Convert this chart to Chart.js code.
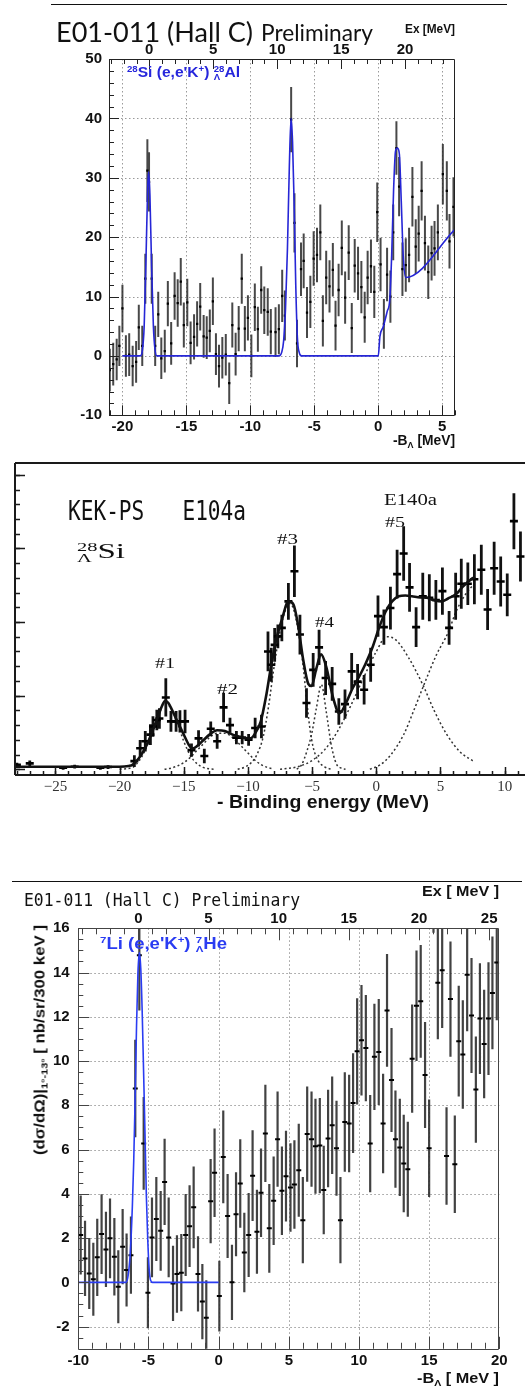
<!DOCTYPE html>
<html><head><meta charset="utf-8">
<script src="https://cdn.jsdelivr.net/npm/chart.js@4.4.1/dist/chart.umd.min.js"></script>
<style>
html,body{margin:0;padding:0;background:#fff;}
body{width:532px;height:1393px;position:relative;overflow:hidden;}
canvas{position:absolute;left:0;}
.t{position:absolute;white-space:nowrap;line-height:1;transform-origin:0 50%;color:#111;}
.sans{font-family:'Liberation Sans',Arial,sans-serif;font-weight:bold;}
.serif{font-family:'Liberation Serif','Times New Roman',serif;}
.mono{font-family:'DejaVu Sans Mono',monospace;}
.blue{color:#2626dc;}
.rule{position:absolute;height:1px;background:#111;}
.sp{font-size:.62em;vertical-align:.6em;line-height:0;}
.sb{font-size:.65em;vertical-align:-.3em;line-height:0;}
.ss{display:inline-block;vertical-align:-.34em;line-height:.92;font-size:.62em;text-align:left;}
.ss span{display:block;}
</style></head><body>
<canvas id="c1" width="532" height="450" style="top:0"></canvas>
<canvas id="c2" width="532" height="350" style="top:455px"></canvas>
<canvas id="c3" width="532" height="518" style="top:875px"></canvas>

<div class="rule" style="top:4px;left:51px;width:456px"></div>
<div class="t" data-w="197" style="left:56px;top:17.8px;font-family:Lato,'Open Sans',sans-serif;font-size:27px">E01-011 (Hall C)</div>
<div class="t" data-w="112" style="left:261px;top:21.3px;font-family:Lato,'Open Sans',sans-serif;font-size:23px">Preliminary</div>
<div class="t sans" data-w="50" style="left:405px;top:23.1px;font-size:12px">Ex [MeV]</div>
<div class="t sans" data-w="62" style="left:393px;top:433.1px;font-size:14px">-B<span class="sb">Λ</span> [MeV]</div>
<div class="t sans blue" data-w="113" style="left:127px;top:65.1px;font-size:14px"><span class="sp">28</span>Si (e,e'K<span class="sp">+</span>) <span class="ss"><span>28</span><span>Λ</span></span>Al</div>

<div class="t mono" data-w="178" style="left:68px;top:497px;font-size:27px">KEK-PS&nbsp;&nbsp;&nbsp;E104a</div>
<div class="t serif" data-w="53" style="left:384px;top:492px;font-size:16px">E140a</div>
<div class="t serif" data-w="20" style="left:385px;top:514.5px;font-size:15px">#5</div>
<div class="t serif" data-w="21" style="left:277px;top:531.5px;font-size:15px">#3</div>
<div class="t serif" data-w="19" style="left:315px;top:614.5px;font-size:15px">#4</div>
<div class="t serif" data-w="20" style="left:155px;top:655.5px;font-size:15px">#1</div>
<div class="t serif" data-w="21" style="left:217px;top:681.5px;font-size:15px">#2</div>
<div class="t serif" data-w="48" style="left:77px;top:541px;font-size:20px"><span class="ss"><span>28</span><span>Λ</span></span>Si</div>
<div class="t sans" data-w="212" style="left:217px;top:792.9px;font-size:18px">- Binding energy (MeV)</div>

<div class="rule" style="top:881px;left:12px;width:510px"></div>
<div class="t mono" data-w="276" style="left:24px;top:891.8px;font-size:17px">E01-011 (Hall C) Preliminary</div>
<div class="t sans" data-w="77" style="left:422px;top:882.6px;font-size:15px">Ex [ MeV ]</div>
<div class="t sans" data-w="82" style="left:417px;top:1369.6px;font-size:15px">-B<span class="sb">Λ</span> [ MeV ]</div>
<div class="t sans blue" data-w="127" style="left:100px;top:935.2px;font-size:16px;color:#2a3cf2"><span class="sp">7</span>Li (e,e'K<span class="sp">+</span>) <span class="ss"><span>7</span><span>Λ</span></span>He</div>
<div id="ylab3" class="sans" style="position:absolute;left:39px;top:925px;white-space:nowrap;line-height:1;font-size:15px;transform-origin:0 0;color:#111">(dσ/dΩ)|<span class="sb">1°-13°</span> [ nb/sr/300 keV ]</div>

<script>
// ---------- Panel 1 : 28Si(e,e'K+) E01-011 ----------
const P1_XTICKS = [-20, -15, -10, -5, 0, 5];
const P1_EXTICKS = [0, 5, 10, 15, 20];
const P1_YTICKS = [-10, 0, 10, 20, 30, 40, 50];
const P1_EX_SHIFT = 17.9;
const p1X = [-20.99,-20.72,-20.45,-20.24,-20.00,-19.73,-19.47,-19.20,-18.93,-18.72,-18.45,-18.21,-18.05,-17.92,-17.71,-17.44,-17.20,-16.96,-16.69,-16.45,-16.19,-15.92,-15.68,-15.44,-15.20,-14.93,-14.67,-14.40,-14.16,-13.92,-13.65,-13.41,-13.17,-12.93,-12.69,-12.45,-12.19,-11.92,-11.65,-11.41,-11.15,-10.91,-10.67,-10.43,-10.19,-9.92,-9.65,-9.41,-9.15,-8.91,-8.64,-8.40,-8.03,-7.77,-7.51,-7.30,-6.81,-6.55,-6.35,-6.04,-5.83,-5.57,-5.31,-5.05,-4.79,-4.53,-4.33,-4.07,-3.81,-3.55,-3.34,-3.10,-2.85,-2.59,-2.31,-2.07,-1.84,-1.58,-1.32,-1.06,-0.83,-0.57,-0.31,-0.08,0.18,0.44,0.69,0.95,1.17,1.42,1.63,1.89,2.15,2.41,2.67,2.93,3.16,3.39,3.65,3.91,4.17,4.40,4.66,5.05,5.36,5.57,5.88];
const p1Y = [-2.4,-1.4,-0.6,1.7,8.0,0.0,0.2,-1.7,-1.0,4.8,1.7,13.0,31.2,29.3,13.0,1.7,7.0,-0.4,0.8,8.8,2.1,10.1,8.9,12.5,5.2,9.0,2.2,3.2,5.4,8.3,3.3,3.1,4.2,9.2,0.3,-1.7,-0.3,0.2,-4.6,5.2,0.3,4.6,13.0,4.6,6.4,0.0,8.2,4.5,11.1,7.7,7.4,4.1,4.0,4.5,10.1,6.8,39.8,22.4,2.1,14.6,16.0,7.3,9.1,16.4,17.0,20.8,5.9,13.2,11.7,14.5,5.1,11.1,18.2,9.8,17.4,4.7,15.2,13.9,11.6,6.5,13.2,15.1,10.8,24.2,15.4,5.4,13.7,10.0,20.8,35.0,28.5,14.6,15.3,17.0,26.8,18.4,20.6,27.8,19.0,14.1,17.3,18.1,20.8,30.6,27.8,19.3,25.1];
const p1E = [3.6,3.6,3.5,3.4,4.0,3.5,3.6,3.4,3.5,3.8,3.4,4.2,5.3,5.0,4.2,3.4,3.8,3.5,3.6,3.8,3.6,4.0,4.0,4.0,3.8,4.0,3.6,3.8,3.8,4.0,3.6,3.6,3.6,4.0,3.5,3.6,3.5,3.5,3.5,3.8,3.6,3.8,4.2,3.8,3.8,3.6,4.0,3.8,4.0,4.0,4.0,3.8,4.2,4.2,4.4,4.2,5.5,5.0,4.0,4.5,4.6,4.3,4.4,4.6,4.6,4.7,4.3,4.5,4.4,4.5,4.2,4.4,4.6,4.4,4.6,4.2,4.5,4.5,4.4,4.3,4.5,4.5,4.4,5.0,4.5,4.2,4.5,4.4,4.7,4.5,5.0,4.5,4.5,4.6,5.0,4.6,4.7,5.0,4.6,4.5,4.6,4.6,4.7,5.1,5.0,4.6,5.0];
const p1FitX = [-20,-18.6,-18.45,-18.3,-18.15,-18.03,-17.95,-17.85,-17.72,-17.58,-17.45,-17.3,-7.75,-7.55,-7.4,-7.25,-7.1,-6.95,-6.82,-6.7,-6.58,-6.45,-6.32,-6.18,-6.0,0,0.13,0.39,0.7,0.9,1.05,1.2,1.35,1.5,1.65,1.8,1.95,2.15,6.0];
const p1FitY = [0,0,0.8,5,17,28,31,27,15,5,1,0,0,0.6,2.5,8,18,32,40,36,26,12,3,0.6,0,0,3.3,4.9,7.5,9.5,17,28,34.5,35,34,26,17,13.2,21.3];

// ---------- Panel 2 : KEK-PS E140a (28_Lambda Si) ----------
const P2_XTICKS = [-25, -20, -15, -10, -5, 0, 5, 10];
const p2X = [-28.0,-27.0,-24.4,-23.5,-21.5,-20.9,-18.85,-18.4,-18.0,-17.6,-17.4,-17.1,-16.9,-16.4,-16.0,-15.6,-15.3,-14.9,-14.4,-13.85,-13.4,-12.9,-12.4,-11.9,-11.4,-10.9,-10.45,-9.95,-9.44,-8.95,-8.44,-8.18,-7.92,-7.67,-7.36,-6.85,-6.38,-5.95,-5.44,-4.92,-4.46,-3.95,-3.44,-2.92,-2.44,-1.92,-1.46,-0.95,-0.44,0.13,0.59,1.10,1.62,2.13,2.59,3.10,3.62,4.13,4.64,5.15,5.67,6.18,6.62,7.13,7.64,8.18,8.67,9.18,9.69,10.20,10.72,11.23];
const p2Y = [0.6,0.8,0.2,0.35,0.2,0.3,1.1,2.86,3.8,4.7,5.8,6.7,6.9,9.75,6.5,6.5,6.5,6.5,2.6,4.2,1.8,5.5,3.8,8.4,6.0,4.3,4.3,4.0,5.6,5.8,16.0,14.2,16.9,18.05,19.2,22.8,26.9,18.3,9.0,13.5,16.55,12.4,11.6,7.85,8.85,13.3,11.9,10.8,14.2,20.8,19.3,21.9,26.5,29.3,24.7,19.3,23.5,23.3,23.0,24.2,19.2,23.5,25.2,25.2,25.8,27.1,21.7,27.3,25.5,23.7,33.7,28.9];
const p2E = [0.3,0.4,0.25,0.25,0.25,0.25,0.8,1.1,1.4,1.4,1.4,1.4,1.4,2.6,1.4,1.4,1.5,1.6,0.9,1.1,1.0,1.0,1.0,2.0,1.0,0.9,0.9,0.8,1.4,1.6,2.7,2.3,2.3,1.6,1.8,2.5,3.5,2.7,2.0,2.3,2.4,2.3,2.3,1.8,2.0,2.5,2.4,2.0,2.3,2.8,2.4,2.9,3.3,3.7,3.3,2.7,3.2,3.2,2.7,3.2,2.3,3.2,3.4,2.9,3.4,3.4,2.8,3.6,3.4,2.9,3.8,3.4];
const p2TotX = [-28.1,-20,-19.3,-19,-18.5,-18,-17.5,-17,-16.7,-16.45,-16.2,-15.9,-15.5,-15,-14.6,-14.35,-14.0,-13.5,-13,-12.4,-11.8,-11.2,-10.6,-10.1,-9.8,-9.4,-9.0,-8.6,-8.2,-7.8,-7.36,-6.85,-6.46,-6.08,-5.69,-5.3,-5.05,-4.67,-4.3,-3.9,-3.38,-2.87,-2.36,-1.85,-1.33,-0.82,-0.31,0.21,0.72,1.23,1.74,2.26,2.77,3.41,3.92,4.44,5.08,5.59,6.23,6.74,7.38,7.7];
const p2TotY = [0.35,0.35,0.45,0.6,1.5,2.9,4.9,7.2,8.6,9.3,9.0,8.0,6.5,4.7,3.3,2.8,3.1,3.9,4.7,5.3,5.2,4.7,4.4,4.2,4.2,5.0,6.5,9.8,14.0,17.6,20.3,22.8,22.4,19.4,14.8,11.6,11.3,13.7,15.6,13.9,9.8,7.6,9.0,11.0,12.6,14.4,16.5,19.2,21.4,22.8,23.5,23.6,23.5,23.35,23.3,23.0,22.8,23.2,23.8,24.8,25.8,26.1];
const p2K1X = [-20,-19,-18.5,-18,-17.5,-17,-16.5,-16,-15.5,-15,-14.5,-14,-13.5,-13,-12.5];
const p2K1Y = [0,0.25,1.1,2.6,4.7,7.1,8.9,8.3,6.3,3.8,1.9,0.8,0.25,0.05,0];
const p2K2X = [-16.5,-16,-15.5,-15,-14.5,-14,-13.5,-13,-12.4,-11.8,-11.2,-10.6,-10,-9.5,-9,-8.5,-8];
const p2K2Y = [0,0.15,0.45,0.9,1.6,2.5,3.4,4.3,4.9,4.9,4.3,3.3,2.2,1.3,0.65,0.25,0.05];
const p2K3X = [-10.8,-10.3,-9.8,-9.3,-8.8,-8.4,-8.0,-7.5,-7.0,-6.8,-6.5,-6.1,-5.7,-5.44,-5.18,-4.92,-4.54,-4.0,-3.5];
const p2K3Y = [0,0.25,0.8,2.0,4.5,8.5,13.5,18.8,22.0,22.5,22.0,19.0,14.0,9.6,5.6,3.0,1.2,0.3,0];
const p2K4X = [-6.2,-5.82,-5.4,-5.05,-4.67,-4.28,-3.9,-3.51,-3.13,-2.74,-2.4];
const p2K4Y = [0,0.6,2.5,4.7,8.3,11.5,7.8,3.3,0.8,0.15,0];
const p2K5X = [-7.5,-6,-5,-4,-3,-2,-1,0,0.8,1.5,2.5,3.67,4.5,5.5,6.5,7.64];
const p2K5Y = [0,0.4,1.2,2.7,5.2,8.6,12.4,16.0,18.0,17.6,15.2,11.3,8.0,4.7,2.4,1.0];
const p2K6X = [-0.5,0.3,1.1,2.13,2.9,3.67,4.7,5.6,6.23,7.0,7.64];
const p2K6Y = [0,0.6,1.9,4.7,7.9,11.3,15.6,18.6,21.5,23.9,25.2];

// ---------- Panel 3 : 7Li(e,e'K+) E01-011 ----------
const P3_XTICKS = [-10, -5, 0, 5, 10, 15, 20];
const P3_EXTICKS = [0, 5, 10, 15, 20, 25];
const P3_YTICKS = [-2, 0, 2, 4, 6, 8, 10, 12, 14, 16];
const P3_EX_SHIFT = 5.72;
const p3X = [-9.83,-9.52,-9.22,-8.93,-8.65,-8.34,-8.03,-7.74,-7.43,-7.15,-6.84,-6.56,-6.25,-5.94,-5.65,-5.34,-5.04,-4.75,-4.44,-4.13,-3.85,-3.56,-3.25,-2.97,-2.66,-2.35,-2.07,-1.78,-1.47,-1.16,-0.88,-0.57,-0.29,0.05,0.33,0.64,0.95,1.24,1.54,1.83,2.14,2.42,2.73,3.02,3.33,3.61,3.92,4.20,4.51,4.80,5.12,5.40,5.71,6.00,6.31,6.62,6.90,7.21,7.49,7.80,8.09,8.40,8.68,8.99,9.30,9.58,9.87,10.18,10.49,10.80,11.10,11.41,11.72,12.00,12.32,12.60,12.91,13.19,13.48,13.79,14.10,14.40,14.71,15.00,15.31,15.62,15.93,16.24,16.52,16.83,17.11,17.40,17.71,18.02,18.33,18.62,18.92,19.23,19.51,19.82];
const p3Y = [2.14,1.08,0.40,0.14,1.13,2.18,1.49,1.99,1.16,-0.20,1.61,0.56,1.23,8.76,14.78,6.28,-0.47,2.03,2.86,2.33,4.54,2.03,-0.05,0.38,0.44,2.14,2.54,3.39,0.38,-0.87,-1.60,3.67,4.95,-0.62,5.67,3.00,0.00,3.08,4.47,1.35,2.14,4.82,2.29,4.05,6.73,2.44,3.69,6.47,4.14,4.80,4.29,4.42,5.07,2.81,6.70,6.47,6.15,6.18,4.17,6.50,7.10,6.06,2.81,7.25,7.18,8.10,10.44,10.94,10.59,6.27,10.19,10.41,7.18,12.29,9.15,6.47,6.10,5.37,5.11,10.11,12.50,12.70,9.37,6.06,18.4,13.54,14.10,5.71,12.80,5.34,10.90,10.30,13.90,12.06,8.71,11.92,10.77,11.92,13.08,14.45];
const p3E = [1.78,1.7,1.6,1.65,1.75,1.8,1.7,1.8,1.75,1.65,1.7,1.65,1.75,2.2,2.5,2.1,1.6,1.8,1.9,1.8,1.95,1.8,1.7,1.75,1.75,1.85,1.85,1.85,1.7,1.7,1.7,1.9,2.0,1.6,2.1,1.9,1.7,1.9,2.0,1.8,1.9,2.05,1.9,2.0,2.2,2.0,2.0,2.15,2.0,2.05,2.0,2.0,2.1,1.95,2.15,2.15,2.15,2.15,2.0,2.2,2.2,2.15,1.95,2.25,2.2,2.25,2.4,2.5,2.4,2.2,2.4,2.4,2.25,2.55,2.35,2.2,2.2,2.2,2.15,2.45,2.5,2.55,2.4,2.2,2.6,2.55,2.6,2.2,2.6,2.2,2.5,2.45,2.55,2.6,2.4,2.5,2.45,2.55,2.55,2.6];
const p3FitX = [-10,-6.6,-6.45,-6.3,-6.15,-6.05,-5.95,-5.85,-5.75,-5.65,-5.55,-5.45,-5.35,-5.25,-5.15,-5.05,-4.95,-4.85,-4.7,0];
const p3FitY = [0,0,0.3,1.3,3.4,5.5,8.3,11.6,14.0,14.9,14.2,12.3,9.6,6.8,3.9,1.9,0.6,0.1,0,0];

// ---------- helpers ----------
const pts = (xs, ys) => xs.map((x, i) => ({x, y: ys[i]}));
const bars = (xs, ys, es) => {
  const out = [];
  xs.forEach((x, i) => { out.push({x, y: ys[i] - es[i]}, {x, y: ys[i] + es[i]}, {x, y: null}); });
  return out;
};
const setTicks = arr => s => { s.ticks = arr.map(v => ({value: v})); };
const SANS = "'Liberation Sans', Arial, sans-serif";
const SERIF = "'Liberation Serif', 'Times New Roman', serif";
const fBold = {family: SANS, size: 15, weight: 'bold'};
const noGrid = {display: false, drawTicks: false};
const noBorder = {display: false};

const frame = {
  id: 'frame',
  beforeDatasetsDraw(chart, args, o) {
    const {ctx, chartArea: a, scales} = chart;
    ctx.save();
    ctx.strokeStyle = o.gridColor || '#999';
    ctx.lineWidth = 1;
    ctx.setLineDash(o.gridDash || [2, 2]);
    (o.gridX || []).forEach(v => {
      const p = Math.round(scales.x.getPixelForValue(v)) + 0.5;
      ctx.beginPath(); ctx.moveTo(p, a.top); ctx.lineTo(p, a.bottom); ctx.stroke();
    });
    (o.gridY || []).forEach(v => {
      const p = Math.round(scales.y.getPixelForValue(v)) + 0.5;
      ctx.beginPath(); ctx.moveTo(a.left, p); ctx.lineTo(a.right, p); ctx.stroke();
    });
    ctx.restore();
  },
  afterDatasetsDraw(chart, args, o) {
    const {ctx, chartArea: a, scales} = chart;
    ctx.save();
    ctx.setLineDash([]);
    ctx.strokeStyle = o.color || '#222';
    ctx.lineWidth = o.tickWidth || 1;
    (o.ticks || []).forEach(t => {
      const s = scales[t.scale];
      const n = Math.round((t.to - t.from) / t.step);
      for (let i = 0; i <= n; i++) {
        const v = t.from + i * t.step;
        const p = Math.round(s.getPixelForValue(v)) + 0.5;
        ctx.beginPath();
        if (t.edge === 'bottom' || t.edge === 'top') {
          if (p < a.left - 0.5 || p > a.right + 0.5) continue;
          const y0 = t.edge === 'bottom' ? a.bottom : a.top;
          const d = t.edge === 'bottom' ? -t.len : t.len;
          ctx.moveTo(p, y0); ctx.lineTo(p, y0 + d);
        } else {
          if (p < a.top - 0.5 || p > a.bottom + 0.5) continue;
          ctx.moveTo(a.left, p); ctx.lineTo(a.left + t.len, p);
        }
        ctx.stroke();
      }
    });
    ctx.lineWidth = o.frameWidth || 1;
    const off = (o.frameWidth || 1) % 2 ? 0.5 : 0;
    const L = Math.round(a.left) + off, R = Math.round(a.right) - off, T = Math.round(a.top) + off, B = Math.round(a.bottom) + off;
    const sides = o.sides || ['top', 'right', 'bottom', 'left'];
    ctx.beginPath();
    if (sides.includes('top')) { ctx.moveTo(L, T); ctx.lineTo(R, T); }
    if (sides.includes('right')) { ctx.moveTo(R, T); ctx.lineTo(R, B); }
    if (sides.includes('bottom')) { ctx.moveTo(L, B); ctx.lineTo(R, B); }
    if (sides.includes('left')) { ctx.moveTo(L, T); ctx.lineTo(L, B); }
    ctx.stroke();
    ctx.restore();
  }
};

const basePlugins = {legend: {display: false}, tooltip: {enabled: false}};

// ---------- Chart 1 ----------
new Chart(document.getElementById('c1'), {
  type: 'scatter',
  data: {datasets: [
    {data: pts(p1FitX, p1FitY), showLine: true, borderColor: '#2626d6', borderWidth: 1.6, pointRadius: 0, cubicInterpolationMode: 'monotone', order: 0},
    {data: pts(p1X, p1Y), pointStyle: 'rect', pointRadius: 1.6, backgroundColor: '#000', borderWidth: 0, order: 1},
    {data: bars(p1X, p1Y, p1E), showLine: true, spanGaps: false, borderColor: 'rgba(40,40,40,0.85)', borderWidth: 2, borderCapStyle: 'butt', pointRadius: 0, order: 2}
  ]},
  options: {
    responsive: false, animation: false, events: [],
    layout: {padding: {left: 69, right: 77, top: 39, bottom: 12.7}},
    plugins: Object.assign({}, basePlugins, {frame: {
      color: '#222', frameWidth: 1, gridColor: '#9a9a9a', gridDash: [1.5, 2.5],
      gridX: P1_XTICKS, gridY: [0, 10, 20, 30, 40],
      ticks: [
        {scale: 'x', edge: 'bottom', from: -21, to: 6, step: 1, len: 5},
        {scale: 'x', edge: 'bottom', from: -20, to: 5, step: 5, len: 10},
        {scale: 'x2', edge: 'top', from: -3, to: 23, step: 1, len: 5},
        {scale: 'x2', edge: 'top', from: 0, to: 20, step: 5, len: 10},
        {scale: 'y', edge: 'left', from: -10, to: 50, step: 2, len: 5},
        {scale: 'y', edge: 'left', from: -10, to: 50, step: 10, len: 10}
      ]}}),
    scales: {
      x: {type: 'linear', position: 'bottom', min: -21.05, max: 6.0, afterBuildTicks: setTicks(P1_XTICKS), afterFit: s => { s.height = 22; },
          ticks: {font: fBold, color: '#111', padding: 2.2, autoSkip: false, maxRotation: 0, callback: v => String(v)}, grid: noGrid, border: noBorder},
      x2: {type: 'linear', axis: 'x', position: 'top', min: -21.05 + P1_EX_SHIFT, max: 6.0 + P1_EX_SHIFT, afterBuildTicks: setTicks(P1_EXTICKS), afterFit: s => { s.height = 20; },
          ticks: {font: fBold, color: '#111', padding: 0, autoSkip: false, maxRotation: 0, callback: v => String(v)}, grid: noGrid, border: noBorder},
      y: {type: 'linear', position: 'left', min: -10, max: 50, afterBuildTicks: setTicks(P1_YTICKS), afterFit: s => { s.width = 40; },
          ticks: {font: fBold, color: '#111', padding: 7, autoSkip: false, callback: v => String(v)}, grid: noGrid, border: noBorder}
    }
  },
  plugins: [frame]
});

// ---------- Chart 2 ----------
const dotted = (xs, ys) => ({data: pts(xs, ys), showLine: true, borderColor: '#333', borderWidth: 1.5, borderDash: [2, 2.5], pointRadius: 0, cubicInterpolationMode: 'monotone', order: 3});
new Chart(document.getElementById('c2'), {
  type: 'scatter',
  data: {datasets: [
    {data: pts(p2TotX, p2TotY), showLine: true, borderColor: '#111', borderWidth: 2.6, pointRadius: 0, cubicInterpolationMode: 'monotone', order: 0},
    {data: pts(p2X, p2Y), pointStyle: 'line', pointRadius: 4, borderColor: '#000', pointBorderWidth: 2.6, order: 1},
    {data: bars(p2X, p2Y, p2E), showLine: true, spanGaps: false, borderColor: '#111', borderWidth: 2.8, borderCapStyle: 'butt', pointRadius: 0, order: 2},
    dotted(p2K1X, p2K1Y), dotted(p2K2X, p2K2Y), dotted(p2K3X, p2K3Y), dotted(p2K4X, p2K4Y), dotted(p2K5X, p2K5Y), dotted(p2K6X, p2K6Y)
  ]},
  options: {
    responsive: false, animation: false, events: [],
    layout: {padding: {left: 15, right: 0, top: 8, bottom: 10}},
    plugins: Object.assign({}, basePlugins, {frame: {
      color: '#1a1a1a', frameWidth: 2, tickWidth: 1.5, sides: ['top', 'left', 'bottom'],
      ticks: [
        {scale: 'x', edge: 'bottom', from: -28, to: 11, step: 1, len: 4},
        {scale: 'x', edge: 'bottom', from: -25, to: 10, step: 5, len: 8},
        {scale: 'y', edge: 'left', from: 0, to: 40, step: 2, len: 5},
        {scale: 'y', edge: 'left', from: 0, to: 40, step: 10, len: 10}
      ]}}),
    scales: {
      x: {type: 'linear', position: 'bottom', min: -28.15, max: 11.615, afterBuildTicks: setTicks(P2_XTICKS), afterFit: s => { s.height = 20; },
          ticks: {font: {family: SERIF, size: 15}, color: '#333', padding: 2.7, autoSkip: false, maxRotation: 0, callback: v => (v < 0 ? '\u2212' + (-v) : String(v))}, grid: noGrid, border: noBorder},
      y: {type: 'linear', display: false, min: -0.78, max: 41.6}
    }
  },
  plugins: [frame]
});

// ---------- Chart 3 ----------
new Chart(document.getElementById('c3'), {
  type: 'scatter',
  data: {datasets: [
    {data: pts(p3FitX, p3FitY), showLine: true, borderColor: '#2a3cf2', borderWidth: 1.6, pointRadius: 0, cubicInterpolationMode: 'monotone', order: 0},
    {data: pts(p3X, p3Y), pointStyle: 'line', pointRadius: 2.5, borderColor: '#000', pointBorderWidth: 2, order: 1},
    {data: bars(p3X, p3Y, p3E), showLine: true, spanGaps: false, borderColor: 'rgba(45,45,45,0.9)', borderWidth: 2.2, borderCapStyle: 'butt', pointRadius: 0, order: 2}
  ]},
  options: {
    responsive: false, animation: false, events: [],
    layout: {padding: {left: 38.3, right: 32.7, top: 33.3, bottom: 22.25}},
    plugins: Object.assign({}, basePlugins, {frame: {
      color: '#444', frameWidth: 1, gridColor: '#9a9a9a', gridDash: [1.5, 2.5],
      gridX: [-5, 0, 5, 10, 15], gridY: [-2, 0, 2, 4, 6, 8, 10, 12, 14],
      ticks: [
        {scale: 'x', edge: 'bottom', from: -10, to: 20, step: 1, len: 6},
        {scale: 'x', edge: 'bottom', from: -10, to: 20, step: 5, len: 12},
        {scale: 'x2', edge: 'top', from: -4, to: 25, step: 1, len: 6},
        {scale: 'x2', edge: 'top', from: 0, to: 25, step: 5, len: 12},
        {scale: 'y', edge: 'left', from: -3, to: 16, step: 0.5, len: 5},
        {scale: 'y', edge: 'left', from: -2, to: 16, step: 2, len: 11}
      ]}}),
    scales: {
      x: {type: 'linear', position: 'bottom', min: -10, max: 20, afterBuildTicks: setTicks(P3_XTICKS), afterFit: s => { s.height = 22; },
          ticks: {font: fBold, color: '#111', padding: 3, autoSkip: false, maxRotation: 0, callback: v => String(v)}, grid: noGrid, border: noBorder},
      x2: {type: 'linear', axis: 'x', position: 'top', min: -10 + P3_EX_SHIFT, max: 20 + P3_EX_SHIFT, afterBuildTicks: setTicks(P3_EXTICKS), afterFit: s => { s.height = 20; },
          ticks: {font: fBold, color: '#111', padding: 0, autoSkip: false, maxRotation: 0, callback: v => String(v)}, grid: noGrid, border: noBorder},
      y: {type: 'linear', position: 'left', min: -3, max: 16, afterBuildTicks: setTicks(P3_YTICKS), afterFit: s => { s.width = 40; },
          ticks: {font: fBold, color: '#111', padding: 8.7, autoSkip: false, callback: v => String(v)}, grid: noGrid, border: noBorder}
    }
  },
  plugins: [frame]
});

// ---------- fit overlay text widths ----------
document.querySelectorAll('[data-w]').forEach(el => {
  const w = el.getBoundingClientRect().width;
  el.style.transform = 'scaleX(' + (parseFloat(el.dataset.w) / w).toFixed(4) + ')';
});
const yl = document.getElementById('ylab3');
const yw = yl.getBoundingClientRect().width;
yl.style.transform = 'rotate(-90deg) scaleX(' + (230 / yw).toFixed(4) + ') translate(-100%,-50%)';
</script>
</body></html>
